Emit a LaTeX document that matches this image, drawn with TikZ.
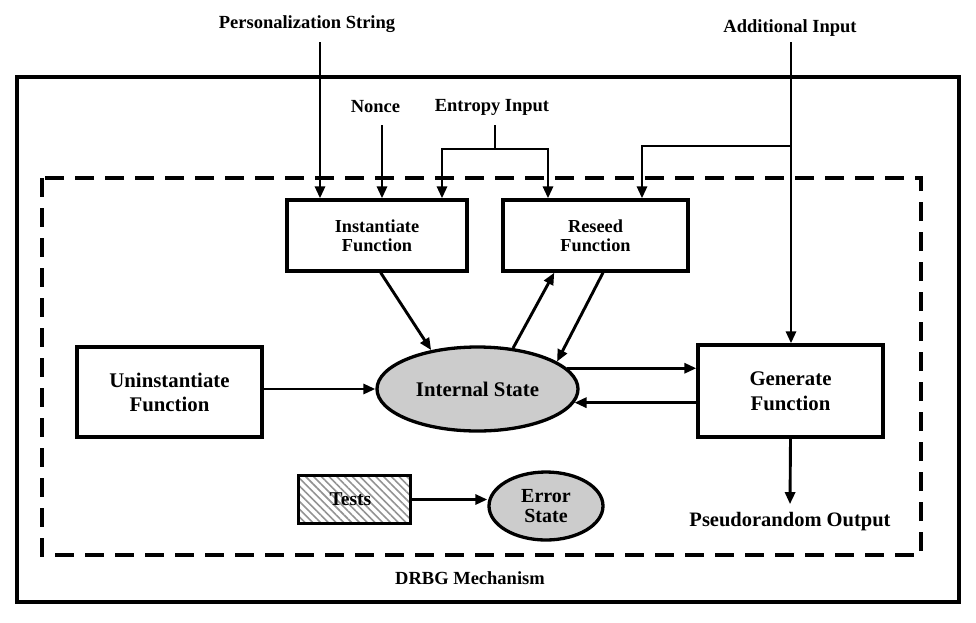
\documentclass[tikz,border=0pt]{standalone}
\usepackage{fontspec}
\setmainfont{Liberation Serif}
\usetikzlibrary{shapes.geometric,arrows.meta,patterns.meta,calc}
\newcommand{\fs}[2]{\fontsize{#1}{#2}\selectfont}
\begin{document}
\begin{tikzpicture}[x=1pt,y=-1pt,
  fbox/.style={draw, line width=3.3pt, align=center, inner sep=0pt},
  lbl/.style={font=\bfseries\fs{18.5}{20}},
  arr/.style={line width=2.9pt, -{Triangle[length=12pt,width=10pt]}},
  ln/.style={line width=2.9pt},
  ]
\useasboundingbox (0,0) rectangle (976,622);
% frames
\draw[line width=4.3pt] (17,77) rectangle (959,602);
\draw[line width=3.5pt, dash pattern=on 19pt off 11pt] (42,178) rectangle (921,555);

% nodes
\node[fbox, minimum width=180pt, minimum height=71pt, font=\bfseries\fs{18.3}{19}] (inst) at (377,235.5) {Instantiate\\Function};
\node[fbox, minimum width=185pt, minimum height=71pt, font=\bfseries\fs{18.3}{19}] (res) at (595.5,235.5) {Reseed\\Function};
\node[fbox, minimum width=185pt, minimum height=90pt, font=\bfseries\fs{20.8}{24}] (uni) at (169.5,392) {Uninstantiate\\Function};
\node[fbox, minimum width=185pt, minimum height=92pt, font=\bfseries\fs{20.8}{25}] (gen) at (790.5,391) {Generate\\Function};
\node[ellipse, draw, fill=gray!40, line width=3.3pt, minimum width=201pt, minimum height=84pt, inner sep=0pt, font=\bfseries\fs{20.8}{24}] (int) at (477.5,389) {Internal State};
\node[draw, line width=3.3pt, minimum width=112pt, minimum height=48pt, inner sep=0pt,
      pattern={Lines[angle=-45,distance=5.5pt,line width=1.6pt]}, pattern color=gray!85,
      font=\bfseries\fs{19.5}{20}] (tests) at (354.5,499.5) {\hspace*{-8pt}Tests};
\node[ellipse, draw, fill=gray!40, line width=3.3pt, minimum width=114pt, minimum height=68pt, inner sep=0pt, align=center, font=\bfseries\fs{20}{20}] (err) at (546,506) {Error\\State};

% labels
\node[lbl] (ps) at (307,24) {Personalization String};
\node[lbl] (ai) at (790,28) {Additional Input};
\node[lbl] (nonce) at (375.5,107) {Nonce};
\node[lbl] (ent) at (492,107) {Entropy Input};
\node[font=\bfseries\fs{20.5}{22}] (pro) at (790,522) {Pseudorandom Output};
\node[lbl] (drbg) at (470,578) {DRBG Mechanism};

% input connectors
\coordinate (psx) at (320,42);
\draw[arr] (psx) -- (psx |- inst.north);
\coordinate (nx) at (382,125);
\draw[arr] (nx) -- (nx |- inst.north);
\coordinate (ex) at (495,125);
\coordinate (eb) at (495,149);
\coordinate (el) at (442,149);
\coordinate (er) at (548,149);
\draw[ln] (ex) -- (eb);
\draw[arr] (eb) -- (el) -- (el |- inst.north);
\draw[arr] (eb) -- (er) -- (er |- res.north);
\coordinate (ax) at (791,42);
\coordinate (ab) at (791,146);
\coordinate (al) at (642,146);
\draw[arr] (ax) -- (ax |- gen.north);
\draw[arr] (ab) -- (al) -- (al |- res.north);

% internal connectors
\draw[arr] ($(inst.south west)!0.52!(inst.south east)$) -- (int.140);
\draw[arr] (int.49) -- ($(res.south west)!0.281!(res.south east)$);
\draw[arr] ($(res.south west)!0.54!(res.south east)$) -- (int.19.4);
\draw[arr] (int.13.6) -- (int.13.6 -| gen.west);
\draw[arr] (int.-8.4 -| gen.west) -- (int.-8.4);
\draw[arr] (uni.east |- int.west) -- (int.west);
\draw[arr] (gen.south) -- ([yshift=5pt]pro.north);
\draw[arr] (tests.east) -- (tests.east -| err.west);
\end{tikzpicture}
\end{document}
